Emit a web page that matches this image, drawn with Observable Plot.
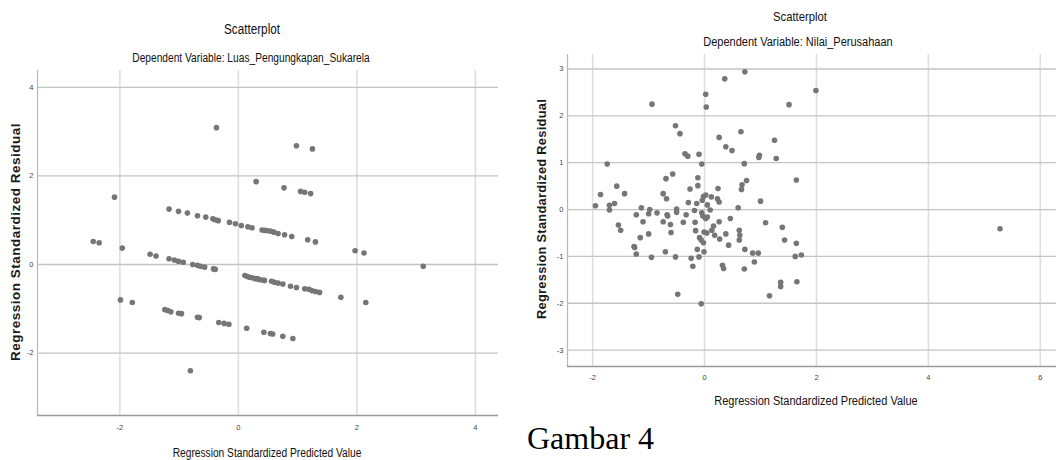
<!DOCTYPE html>
<html><head><meta charset="utf-8">
<script src="https://cdn.jsdelivr.net/npm/d3@7"></script>
<script src="https://cdn.jsdelivr.net/npm/@observablehq/plot@0.6"></script>
<style>
body{margin:0;background:#fff;}
#wrap{position:relative;width:1056px;height:460px;overflow:hidden;background:#fff;font-family:"Liberation Sans Narrow","Arial Narrow","Liberation Sans",Arial,sans-serif;}
.t{position:absolute;white-space:nowrap;color:#111;line-height:1;}
.yl{position:absolute;white-space:nowrap;font-family:"Liberation Sans",Arial,sans-serif;font-weight:bold;color:#1a1a1a;line-height:1;transform:translate(-50%,-50%) rotate(-90deg);}
.p{position:absolute;top:0;}
#cap{position:absolute;left:527px;top:422px;font-family:"Liberation Serif","Times New Roman",serif;font-size:32px;line-height:1;color:#000;white-space:nowrap;}
</style></head><body><div id="wrap">
<div class="t" style="left:252px;top:30px;font-size:13.8px;transform:translate(-50%,-50%) scaleX(0.85)">Scatterplot</div>
<div class="t" style="left:251px;top:58px;font-size:12px;transform:translate(-50%,-50%) scaleX(0.85)">Dependent Variable: Luas_Pengungkapan_Sukarela</div>
<div class="yl" style="left:16px;top:242px;font-size:13.5px;letter-spacing:0.5px">Regression Standardized Residual</div>
<div class="t" style="left:267px;top:453px;font-size:12px;transform:translate(-50%,-50%) scaleX(0.85)">Regression Standardized Predicted Value</div>
<div class="p" id="left" style="left:0px"></div>
<div class="t" style="left:800px;top:17px;font-size:12.8px;transform:translate(-50%,-50%) scaleX(0.88)">Scatterplot</div>
<div class="t" style="left:798px;top:42px;font-size:12.5px;transform:translate(-50%,-50%) scaleX(0.88)">Dependent Variable: Nilai_Perusahaan</div>
<div class="yl" style="left:542px;top:209px;font-size:12.8px;letter-spacing:0.3px">Regression Standardized Residual</div>
<div class="t" style="left:816px;top:401px;font-size:12.5px;transform:translate(-50%,-50%) scaleX(0.88)">Regression Standardized Predicted Value</div>
<div class="p" id="right" style="left:520px"></div>
<div id="cap">Gambar 4</div>
</div>
<script>
// Left chart: Dependent Variable Luas_Pengungkapan_Sukarela
const leftPredicted = [-0.37,0.98,1.25,0.30,0.77,1.05,1.12,1.22,-2.09,
-1.17,-1.01,-0.86,-0.69,-0.55,-0.43,-0.39,-0.34,-0.15,-0.05,0.05,0.16,0.23,0.40,0.45,0.50,0.55,0.60,0.67,0.78,0.90,1.17,1.30,
-2.45,-2.35,-1.96,-1.49,-1.39,
-1.17,-1.08,-1.01,-0.93,-0.77,-0.69,-0.64,-0.57,-0.42,-0.39,
0.11,0.15,0.19,0.23,0.28,0.32,0.35,0.40,0.44,0.56,0.61,0.67,0.75,0.88,0.98,1.12,1.19,1.24,1.30,1.37,
1.73,1.97,2.12,3.12,-1.99,-1.79,2.15,
-1.24,-1.19,-1.14,-1.01,-0.96,-0.69,-0.66,-0.33,-0.24,-0.16,0.14,0.43,0.54,0.58,0.75,0.92,
-0.81];
const leftResidual = [3.09,2.68,2.61,1.87,1.73,1.65,1.63,1.60,1.52,
1.25,1.20,1.16,1.10,1.07,1.03,1.01,0.99,0.95,0.92,0.88,0.85,0.83,0.78,0.77,0.76,0.75,0.73,0.70,0.67,0.63,0.56,0.51,
0.52,0.49,0.37,0.23,0.19,
0.13,0.10,0.07,0.05,0.00,-0.02,-0.04,-0.06,-0.10,-0.11,
-0.25,-0.27,-0.29,-0.30,-0.32,-0.32,-0.34,-0.35,-0.36,-0.38,-0.40,-0.42,-0.44,-0.49,-0.52,-0.55,-0.56,-0.59,-0.61,-0.63,
-0.74,0.31,0.26,-0.04,-0.80,-0.86,-0.86,
-1.02,-1.04,-1.07,-1.10,-1.11,-1.19,-1.20,-1.31,-1.33,-1.35,-1.44,-1.53,-1.56,-1.57,-1.62,-1.67,
-2.40];
const leftXTicks = [-2, 0, 2, 4];
const leftYTicks = [-2, 0, 2, 4];

// Right chart: Dependent Variable Nilai_Perusahaan
const rightPredicted = [0.72,0.36,0.02,1.99,-0.94,0.03,1.51,-0.52,-0.44,0.26,0.65,1.25,0.38,0.49,-0.35,-0.30,-0.10,0.98,0.97,1.28,
-1.74,0.71,-0.05,1.64,-1.86,-1.57,-1.43,-1.95,-1.70,-1.70,-1.61,-1.54,-1.50,-1.22,-1.13,-1.10,-1.15,-1.26,-1.25,-1.22,
-1.00,-1.00,-0.98,-0.95,-0.85,-0.74,-0.68,-0.69,-0.57,-0.74,-0.67,-0.66,-0.61,-0.60,-0.70,-0.52,-0.50,-0.50,-0.48,-0.38,
-0.33,-0.29,-0.26,-0.18,-0.17,-0.16,-0.14,-0.12,-0.12,-0.13,-0.24,-0.21,-0.10,-0.09,-0.06,-0.02,-0.01,-0.05,-0.03,-0.04,
-0.02,0.02,0.02,-0.01,0.04,0.05,0.05,0.10,0.12,0.13,0.16,0.18,0.23,0.26,0.24,0.26,0.27,0.32,0.34,0.38,
0.43,0.46,0.60,0.62,0.63,0.62,0.66,0.67,0.75,0.72,0.71,0.86,0.89,0.96,1.00,1.09,1.16,1.39,1.43,1.36,
1.36,1.64,1.62,1.73,1.65,5.28,-0.06];
const rightResidual = [2.94,2.79,2.46,2.54,2.25,2.19,2.24,1.79,1.62,1.54,1.66,1.48,1.34,1.26,1.19,1.14,1.18,1.16,1.11,1.09,
0.97,0.98,0.97,0.63,0.32,0.50,0.34,0.08,0.09,-0.01,0.13,-0.33,-0.44,-0.11,0.04,-0.26,-0.60,-0.79,-0.81,-0.95,
-0.52,-0.09,0.00,-1.02,-0.07,0.34,0.23,0.66,0.76,-0.26,-0.11,-0.14,-0.32,-0.49,-0.90,-1.01,0.01,-0.06,-1.81,-0.27,
-0.11,0.15,0.44,-0.02,-0.27,-0.45,0.13,0.51,0.68,-0.85,-1.04,-1.21,-1.01,-0.60,-0.65,-0.71,-0.90,-0.07,-0.14,0.20,
0.28,0.31,-0.19,-0.48,-0.50,-0.16,0.10,-0.01,0.27,-0.44,-0.35,-0.55,0.23,0.16,0.45,-0.26,-0.63,-1.19,-1.26,-0.52,
-0.76,-0.19,0.04,-0.44,-0.55,-0.65,0.43,0.53,0.62,-0.85,-1.27,-0.93,-1.12,-0.93,0.18,-0.28,-1.84,-0.38,-0.65,-1.55,
-1.64,-0.72,-1.00,-0.97,-1.54,-0.41,-2.01];
const rightXTicks = [-2, 0, 2, 4, 6];
const rightYTicks = [-3, -2, -1, 0, 1, 2, 3];

const fmt = d => (d < 0 ? "-" + Math.abs(d) : String(d));

function scatter(o) {
  const data = o.xs.map((x, i) => ({x, y: o.ys[i]}));
  return Plot.plot({
    width: o.width, height: o.height,
    marginLeft: o.ml, marginRight: o.mr, marginTop: o.mt, marginBottom: o.mb,
    style: {background: "transparent", fontFamily: "'Liberation Sans',Arial,sans-serif", color: "#444", overflow: "visible"},
    x: {domain: o.xd, label: null},
    y: {domain: o.yd, label: null},
    marks: [
      Plot.ruleX(o.xt, {stroke: "#dedede", strokeWidth: 1.6}),
      Plot.ruleY(o.yt, {stroke: "#c4c4c4", strokeWidth: 1.3}),
      Plot.ruleX([o.xd[0]], {stroke: "#b8b8b8", strokeWidth: 1.2}),
      Plot.ruleY([o.yd[0]], {stroke: "#9a9a9a", strokeWidth: 1.6}),
      Plot.axisX(o.xt, {tickSize: 0, tickPadding: o.xpad, tickFormat: fmt, fontSize: 7.5, label: null}),
      Plot.axisY(o.yt, {tickSize: 0, tickPadding: 4, tickFormat: fmt, fontSize: 7.5, label: null}),
      Plot.dot(data, {x: "x", y: "y", r: 2.8, fill: "#767676", stroke: "none"})
    ]
  });
}

document.getElementById("left").append(scatter({
  xs: leftPredicted, ys: leftResidual, width: 520, height: 460,
  ml: 37, mr: 22, mt: 70, mb: 45,
  xd: [-3.39, 4.39], yd: [-3.41, 4.38], xt: leftXTicks, yt: leftYTicks, xpad: 9
}));
document.getElementById("right").append(scatter({
  xs: rightPredicted, ys: rightResidual, width: 536, height: 390,
  ml: 47, mr: 0, mt: 54, mb: 24,
  xd: [-2.45, 6.29], yd: [-3.35, 3.31], xt: rightXTicks, yt: rightYTicks, xpad: 8
}));
</script>
</body></html>
